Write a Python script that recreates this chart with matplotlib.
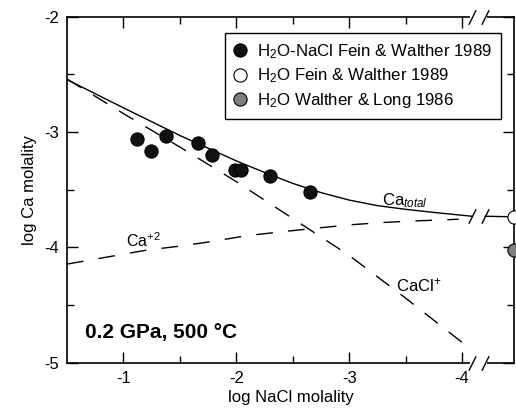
import numpy as np
import matplotlib
matplotlib.use("Agg")
import matplotlib.pyplot as plt

plt.rcParams["font.family"] = ["Liberation Sans", "DejaVu Sans"]
plt.rcParams["mathtext.fontset"] = "custom"
plt.rcParams["mathtext.rm"] = "Liberation Sans"
plt.rcParams["mathtext.it"] = "Liberation Sans:italic"

# model curves (log NaCl molality vs log Ca molality)
ca_total_x = [-0.5, -1.0, -1.5, -1.75, -2.0, -2.25, -2.5, -2.75, -3.0, -3.25, -3.5, -3.75, -4.087]
ca_total_y = [-2.545, -2.79, -3.03, -3.14, -3.25, -3.35, -3.445, -3.525, -3.59, -3.638, -3.67, -3.697, -3.73]

ca2_x = [-0.5, -0.855, -1.21, -1.476, -1.787, -2.08, -2.38, -2.71, -3.01, -3.30, -3.60, -3.97]
ca2_y = [-4.145, -4.084, -4.023, -3.992, -3.949, -3.90, -3.867, -3.833, -3.804, -3.784, -3.77, -3.756]

cacl_x = [-0.5, -1.0, -1.5, -2.0, -2.5, -3.0, -3.5, -4.06]
cacl_y = [-2.54, -2.84, -3.13, -3.43, -3.75, -4.07, -4.44, -4.87]

# experimental data
fw_nacl_x = [-1.118, -1.243, -1.376, -1.66, -1.787, -1.99, -2.04, -2.30, -2.653]
fw_nacl_y = [-3.061, -3.16, -3.032, -3.095, -3.203, -3.333, -3.333, -3.385, -3.52]
fw_h2o_y = [-3.735]
wl_h2o_y = [-4.025]

xmin, xmax = -0.5, -4.46
brk1, brk2 = -4.087, -4.205

fig = plt.figure(figsize=(5.16, 4.08), dpi=100)
ax = fig.add_axes([0.1298, 0.111, 0.9962 - 0.1298, 0.959 - 0.111])

lw = 1.0
ax.plot(ca_total_x, ca_total_y, color="black", lw=lw)
ax.plot([brk2, xmax], [ca_total_y[-1], fw_h2o_y[0]], color="black", lw=lw)
ax.plot(ca2_x, ca2_y, color="black", lw=lw, dashes=(12, 11))
ax.plot(cacl_x, cacl_y, color="black", lw=lw, dashes=(12, 10))

ms = 9.5
ax.plot(fw_nacl_x, fw_nacl_y, "o", ms=ms, mfc="#111111", mec="black", mew=0.8,
        label="H$_2$O-NaCl Fein & Walther 1989", clip_on=False, zorder=5)
ax.plot([xmax], fw_h2o_y, "o", ms=ms, mfc="white", mec="black", mew=0.8,
        label="H$_2$O Fein & Walther 1989", clip_on=False, zorder=5)
ax.plot([xmax], wl_h2o_y, "o", ms=ms, mfc="#7f7f7f", mec="black", mew=0.8,
        label="H$_2$O Walther & Long 1986", clip_on=False, zorder=5)

ax.set_xlim(xmin, xmax)
ax.set_ylim(-5, -2)
ax.set_xticks([-1, -2, -3, -4])
ax.set_xticks([-1.5, -2.5, -3.5], minor=True)
ax.set_yticks([-2, -3, -4, -5])
ax.set_yticks([-2.5, -3.5, -4.5], minor=True)
ax.set_xticklabels(["-1", "-2", "-3", "-4"])
ax.set_yticklabels(["-2", "-3", "-4", "-5"])
ax.tick_params(which="both", direction="in", top=True, right=True,
               labelsize=12, width=1.0, pad=6)
ax.tick_params(which="major", length=8)
ax.tick_params(which="minor", length=5)
for s in ax.spines.values():
    s.set_linewidth(1.2)

ax.set_xlabel("log NaCl molality", fontsize=12, labelpad=3)
ax.set_ylabel("log Ca molality", fontsize=12, labelpad=5)

# axis break marks
slash = [(-0.25, -0.5), (0.25, 0.5)]
xt = ax.get_xaxis_transform()
for yy in [0, 1]:
    ax.plot([brk1, brk2], [yy, yy], color="white", lw=3, transform=xt,
            clip_on=False, zorder=3)
    ax.plot([brk1, brk2], [yy, yy], ls="none", marker=slash, ms=10.5,
            mec="black", mew=1.0, transform=xt, clip_on=False, zorder=4)
ax.plot([brk1, brk2], [ca_total_y[-1]] * 2, ls="none", marker=slash, ms=10.5,
        mec="black", mew=1.0, zorder=4)

ax.text(-3.29, -3.635, r"Ca$_{\it{total}}$", fontsize=12)
ax.text(-1.02, -4.0, r"Ca$^{+2}$", fontsize=11.5)
ax.text(-3.414, -4.38, r"CaCl$^{+}$", fontsize=12)
ax.text(-0.66, -4.79, "0.2 GPa, 500 °C", fontsize=15, fontweight="bold")

leg = ax.legend(loc="upper right", bbox_to_anchor=(0.971, 0.952), fontsize=12.2,
                frameon=True, fancybox=False, edgecolor="black", framealpha=1,
                handletextpad=0.63, borderpad=0.5, labelspacing=0.36,
                handlelength=0.8, borderaxespad=0)
leg.get_frame().set_linewidth(1.0)

fig.savefig("out.png", dpi=100)
